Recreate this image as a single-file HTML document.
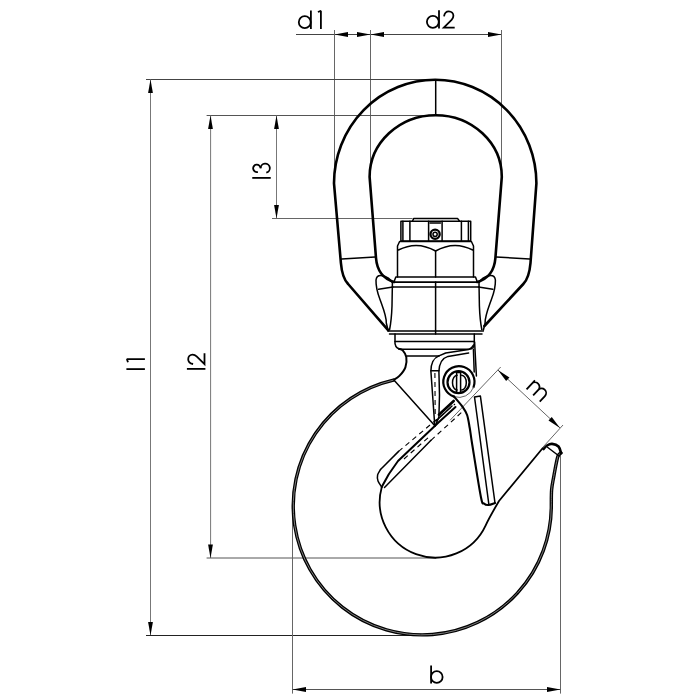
<!DOCTYPE html><html><head><meta charset="utf-8"><style>html,body{margin:0;padding:0;background:#fff;font-family:"Liberation Sans",sans-serif;width:700px;height:700px;overflow:hidden;}svg{display:block;}</style></head><body><svg width="700" height="700" viewBox="0 0 700 700">
<rect width="700" height="700" fill="#fff"/>
<line x1="296.00" y1="34.50" x2="501.50" y2="34.50" fill="none" stroke="#444" stroke-width="1"/>
<line x1="334.50" y1="30.00" x2="334.50" y2="183.00" fill="none" stroke="#666" stroke-width="1"/>
<line x1="370.50" y1="30.00" x2="370.50" y2="165.00" fill="none" stroke="#666" stroke-width="1"/>
<line x1="501.50" y1="30.00" x2="501.50" y2="165.00" fill="none" stroke="#666" stroke-width="1"/>
<path d="M 334.50,34.50 L 348.00,32.10 L 348.00,36.90 Z" fill="#000"/>
<path d="M 370.50,34.50 L 357.00,36.90 L 357.00,32.10 Z" fill="#000"/>
<path d="M 370.50,34.50 L 384.00,32.10 L 384.00,36.90 Z" fill="#000"/>
<path d="M 501.50,34.50 L 488.00,36.90 L 488.00,32.10 Z" fill="#000"/>
<line x1="146.00" y1="79.50" x2="435.70" y2="79.50" fill="none" stroke="#444" stroke-width="1"/>
<line x1="150.50" y1="79.50" x2="150.50" y2="635.50" fill="none" stroke="#777" stroke-width="1"/>
<line x1="146.00" y1="635.50" x2="426.00" y2="635.50" fill="none" stroke="#222" stroke-width="1"/>
<path d="M 150.50,79.50 L 152.90,93.00 L 148.10,93.00 Z" fill="#000"/>
<path d="M 150.50,635.50 L 148.10,622.00 L 152.90,622.00 Z" fill="#000"/>
<line x1="206.60" y1="115.50" x2="435.70" y2="115.50" fill="none" stroke="#555" stroke-width="1"/>
<line x1="210.60" y1="115.50" x2="210.60" y2="558.00" fill="none" stroke="#777" stroke-width="1"/>
<line x1="206.60" y1="558.00" x2="436.00" y2="558.00" fill="none" stroke="#555" stroke-width="1"/>
<path d="M 210.50,115.50 L 212.90,129.00 L 208.10,129.00 Z" fill="#000"/>
<path d="M 210.50,558.00 L 208.10,544.50 L 212.90,544.50 Z" fill="#000"/>
<line x1="276.50" y1="115.50" x2="276.50" y2="218.50" fill="none" stroke="#777" stroke-width="1"/>
<line x1="272.00" y1="218.50" x2="412.60" y2="218.50" fill="none" stroke="#666" stroke-width="1"/>
<path d="M 276.50,115.50 L 278.90,129.00 L 274.10,129.00 Z" fill="#000"/>
<path d="M 276.50,218.50 L 274.10,205.00 L 278.90,205.00 Z" fill="#000"/>
<line x1="292.50" y1="503.00" x2="292.50" y2="693.60" fill="none" stroke="#666" stroke-width="1"/>
<line x1="560.50" y1="454.00" x2="560.50" y2="693.60" fill="none" stroke="#666" stroke-width="1"/>
<line x1="292.50" y1="689.50" x2="560.50" y2="689.50" fill="none" stroke="#555" stroke-width="1"/>
<path d="M 292.50,689.50 L 306.00,687.10 L 306.00,691.90 Z" fill="#000"/>
<path d="M 560.50,689.50 L 547.00,691.90 L 547.00,687.10 Z" fill="#000"/>
<line x1="450.00" y1="420.30" x2="500.70" y2="367.00" fill="none" stroke="#666" stroke-width="1"/>
<line x1="542.60" y1="447.50" x2="563.00" y2="425.00" fill="none" stroke="#666" stroke-width="1"/>
<line x1="497.90" y1="370.00" x2="560.00" y2="427.90" fill="none" stroke="#666" stroke-width="1"/>
<path d="M 497.90,370.00 L 509.41,377.45 L 506.14,380.96 Z" fill="#000"/>
<path d="M 560.00,427.90 L 548.49,420.45 L 551.76,416.94 Z" fill="#000"/>
<circle cx="304.75" cy="22.15" r="5.95" fill="none" stroke="#000" stroke-width="1.8" stroke-linecap="butt"/>
<path d="M 310.90,28.90 V 10.50" fill="none" stroke="#000" stroke-width="1.8" stroke-linecap="butt"/>
<path d="M 317.90,12.00 L 320.90,10.90 V 28.90" fill="none" stroke="#000" stroke-width="1.8" stroke-linecap="butt" stroke-linejoin="bevel"/>
<circle cx="432.85" cy="21.85" r="5.95" fill="none" stroke="#000" stroke-width="1.8" stroke-linecap="butt"/>
<path d="M 439.00,28.60 V 10.20" fill="none" stroke="#000" stroke-width="1.8" stroke-linecap="butt"/>
<path d="M 444.0,16.3 C 444.6,13.000000000000002 446.6,11.400000000000002 448.8,11.400000000000002 C 451.5,11.400000000000002 453.40000000000003,13.3 453.40000000000003,15.8 C 453.40000000000003,17.400000000000002 452.8,18.6 451.6,19.8 L 443.8,27.700000000000003 H 454.7" fill="none" stroke="#000" stroke-width="1.8" stroke-linecap="butt" stroke-linejoin="miter"/>
<path d="M 431.10,683.60 V 665.40" fill="none" stroke="#000" stroke-width="1.8" stroke-linecap="butt"/>
<circle cx="436.80" cy="677.00" r="5.8" fill="none" stroke="#000" stroke-width="1.8" stroke-linecap="butt"/>
<g transform="translate(144.90,370.00) rotate(-90.00)">
<path d="M 0.90,0 V -18.5" fill="none" stroke="#000" stroke-width="1.8" stroke-linecap="butt"/>
<path d="M 7.80,-16.90 L 10.80,-18.00 V 0.00" fill="none" stroke="#000" stroke-width="1.8" stroke-linecap="butt" stroke-linejoin="bevel"/>
</g>
<g transform="translate(205.40,369.80) rotate(-90.00)">
<path d="M 0.90,0 V -18.5" fill="none" stroke="#000" stroke-width="1.8" stroke-linecap="butt"/>
<path d="M 5.8,-12.3 C 6.3999999999999995,-15.6 8.399999999999999,-17.2 10.6,-17.2 C 13.299999999999999,-17.2 15.2,-15.3 15.2,-12.8 C 15.2,-11.2 14.6,-10.0 13.4,-8.8 L 5.6,-0.9 H 16.5" fill="none" stroke="#000" stroke-width="1.8" stroke-linecap="butt" stroke-linejoin="miter"/>
</g>
<g transform="translate(270.75,178.80) rotate(-90.00)">
<path d="M 0.90,0 V -18.5" fill="none" stroke="#000" stroke-width="1.8" stroke-linecap="butt"/>
<path d="M 6.9,-12.9 A 3.7,3.7 0 1 1 10.5,-10.2" fill="none" stroke="#000" stroke-width="1.8" stroke-linecap="butt"/>
<path d="M 10.6,-10.1 A 4.6,4.6 0 1 1 6.12,-4.47" fill="none" stroke="#000" stroke-width="1.8" stroke-linecap="butt"/>
</g>
<g transform="translate(525.90,388.70) rotate(43.00)">
<path d="M 0.9,0 V -12.3 M 0.9,-7.6 A 4.5,4.5 0 0 1 9.9,-7.6 V 0 M 9.9,-7.6 A 4.5,4.5 0 0 1 18.9,-7.6 V 0" fill="none" stroke="#000" stroke-width="1.8" stroke-linecap="butt"/>
</g>
<path d="M 388.3,330.3 L 348.1,284 Q 342.2,278 340.9,263 L 334,183.3 A 101.2,103.6 0 0 1 536.4,183.3 L 530.5,263 Q 529.2,278 523.3,284 L 484.4,326" fill="none" stroke="#000" stroke-width="2.6" stroke-linejoin="round" stroke-linecap="round"/>
<path d="M 394,282 Q 377.5,277 376,258 L 369.6,176.9 A 66.1,61.7 0 0 1 501.8,176.9 L 495.4,258 Q 493.9,277 477.4,282" fill="none" stroke="#000" stroke-width="2.6" stroke-linejoin="round" stroke-linecap="round"/>
<line x1="435.70" y1="79.70" x2="435.70" y2="115.20" fill="none" stroke="#000" stroke-width="1.5" stroke-linejoin="round" stroke-linecap="round"/>
<line x1="341.70" y1="259.10" x2="375.10" y2="257.00" fill="none" stroke="#000" stroke-width="1.5" stroke-linejoin="round" stroke-linecap="round"/>
<line x1="529.70" y1="259.10" x2="496.30" y2="257.00" fill="none" stroke="#000" stroke-width="1.5" stroke-linejoin="round" stroke-linecap="round"/>
<path d="M 388,330 L 386.3,323 C 386.5,316 383,308 380,299.5 C 377.5,293 375.8,286 376,280 Q 376.5,275.3 381,275.5 Q 390,277 392.4,283 L 392,306 Q 391.5,320 389.6,329.5" fill="none" stroke="#000" stroke-width="1.5" stroke-linejoin="round" stroke-linecap="round"/>
<path d="M 388,330 L 386.3,323 C 386.5,316 383,308 380,299.5 C 377.5,293 375.8,286 376,280 Q 376.5,275.3 381,275.5 Q 390,277 392.4,283 L 392,306 Q 391.5,320 389.6,329.5" fill="none" stroke="#000" stroke-width="1.5" stroke-linejoin="round" stroke-linecap="round" transform="translate(871.4,0) scale(-1,1)"/>
<line x1="378.60" y1="289.30" x2="392.90" y2="287.10" fill="none" stroke="#000" stroke-width="1.5" stroke-linejoin="round" stroke-linecap="round"/>
<line x1="492.80" y1="289.30" x2="478.50" y2="287.10" fill="none" stroke="#000" stroke-width="1.5" stroke-linejoin="round" stroke-linecap="round"/>
<path d="M 412.5,221 L 413.8,218.4 H 457.5 L 459.4,221" fill="none" stroke="#000" stroke-width="1.5" stroke-linejoin="round" stroke-linecap="round"/>
<rect x="400.9" y="221.3" width="69.8" height="19.6" fill="none" stroke="#000" stroke-width="1.5" stroke-linejoin="round" stroke-linecap="round"/>
<line x1="402.90" y1="221.30" x2="402.90" y2="240.90" fill="none" stroke="#000" stroke-width="1.5" stroke-linejoin="round" stroke-linecap="round"/>
<line x1="409.90" y1="221.30" x2="409.90" y2="240.90" fill="none" stroke="#000" stroke-width="1.5" stroke-linejoin="round" stroke-linecap="round"/>
<line x1="428.60" y1="221.30" x2="428.60" y2="240.90" fill="none" stroke="#000" stroke-width="1.5" stroke-linejoin="round" stroke-linecap="round"/>
<line x1="442.10" y1="221.30" x2="442.10" y2="240.90" fill="none" stroke="#000" stroke-width="1.5" stroke-linejoin="round" stroke-linecap="round"/>
<line x1="461.40" y1="221.30" x2="461.40" y2="240.90" fill="none" stroke="#000" stroke-width="1.5" stroke-linejoin="round" stroke-linecap="round"/>
<line x1="468.40" y1="221.30" x2="468.40" y2="240.90" fill="none" stroke="#000" stroke-width="1.5" stroke-linejoin="round" stroke-linecap="round"/>
<line x1="430.00" y1="222.90" x2="440.50" y2="222.90" fill="none" stroke="#000" stroke-width="1.5" stroke-linejoin="round" stroke-linecap="round"/>
<circle cx="435.1" cy="234.3" r="4.6" fill="none" stroke="#000" stroke-width="2.3" stroke-linejoin="round" stroke-linecap="round"/>
<circle cx="435.1" cy="234.3" r="2.1" fill="none" stroke="#000" stroke-width="1.5" stroke-linejoin="round" stroke-linecap="round"/>
<path d="M 397.5,277 V 246 L 399.6,241.5 H 471.4 L 473.5,246 V 277" fill="none" stroke="#000" stroke-width="1.5" stroke-linejoin="round" stroke-linecap="round"/>
<path d="M 398.4,250 Q 417,240.3 435.6,251 Q 454.2,240.3 472.8,250" fill="none" stroke="#000" stroke-width="1.5" stroke-linejoin="round" stroke-linecap="round"/>
<line x1="435.60" y1="251.00" x2="435.60" y2="277.00" fill="none" stroke="#000" stroke-width="1.5" stroke-linejoin="round" stroke-linecap="round"/>
<path d="M 393.9,282.3 L 395.8,277 H 475.5 L 477.4,282.3 Z" fill="none" stroke="#000" stroke-width="1.5" stroke-linejoin="round" stroke-linecap="round"/>
<line x1="392.50" y1="282.30" x2="479.00" y2="282.30" fill="none" stroke="#000" stroke-width="1.5" stroke-linejoin="round" stroke-linecap="round"/>
<line x1="392.30" y1="287.00" x2="479.10" y2="287.00" fill="none" stroke="#000" stroke-width="1.5" stroke-linejoin="round" stroke-linecap="round"/>
<line x1="435.60" y1="282.00" x2="435.60" y2="334.00" fill="none" stroke="#000" stroke-width="1.5" stroke-linejoin="round" stroke-linecap="round"/>
<path d="M 388,331 H 483.4 M 389.5,334 H 482" fill="none" stroke="#000" stroke-width="1.5" stroke-linejoin="round" stroke-linecap="round"/>
<path d="M 395,334 V 343.6 Q 396,349.3 402,349.3 H 469 Q 474.3,349.3 474.3,343.6 V 334" fill="none" stroke="#000" stroke-width="1.5" stroke-linejoin="round" stroke-linecap="round"/>
<line x1="395.00" y1="341.40" x2="474.30" y2="341.40" fill="none" stroke="#000" stroke-width="1.5" stroke-linejoin="round" stroke-linecap="round"/>
<path d="M 399.00,348.80 C 399.65,349.10 401.68,349.23 402.90,350.60 C 404.12,351.97 405.88,354.22 406.30,357.00 C 406.72,359.78 406.55,364.15 405.40,367.30 C 404.25,370.45 401.40,373.77 399.40,375.90 C 397.40,378.03 394.40,379.40 393.40,380.10" fill="none" stroke="#000" stroke-width="2.0" stroke-linejoin="round" stroke-linecap="round"/>
<path d="M 393.40,380.10 A 129.04,129.04 0 1 0 551.31,505.00 C 551.36,502.50 551.25,494.40 551.60,490.00 C 551.95,485.60 552.38,484.08 553.40,478.60 C 554.42,473.12 556.43,461.37 557.70,457.10 C 558.97,452.83 560.45,453.68 561.00,453.00" fill="none" stroke="#000" stroke-width="3.4" stroke-linejoin="round" stroke-linecap="round"/>
<path d="M 393.40,380.10 A 129.04,129.04 0 1 0 551.31,505.00 C 551.36,502.50 551.25,494.40 551.60,490.00 C 551.95,485.60 552.38,484.08 553.40,478.60 C 554.42,473.12 556.43,461.37 557.70,457.10 C 558.97,452.83 560.45,453.68 561.00,453.00" fill="none" stroke="#8a8a8a" stroke-width="0.9" stroke-linejoin="round" stroke-linecap="round"/>
<path d="M 561.00,453.00 C 560.58,451.92 559.98,448.02 558.50,446.50 C 557.02,444.98 554.02,444.07 552.10,443.90 C 550.18,443.73 548.42,444.65 547.00,445.50 C 545.58,446.35 544.17,448.42 543.60,449.00" fill="none" stroke="#000" stroke-width="2.6" stroke-linejoin="round" stroke-linecap="round"/>
<line x1="546.50" y1="446.50" x2="559.00" y2="456.00" fill="none" stroke="#000" stroke-width="1.5" stroke-linejoin="round" stroke-linecap="round"/>
<path d="M 542.6,448.3 L 499,501 Q 489.37,517.38 485.57,525.54 A 55.53,55.53 0 0 1 381.73,487.23" fill="none" stroke="#000" stroke-width="1.8" stroke-linejoin="round" stroke-linecap="round"/>
<path d="M 381.70,487.00 C 381.08,486.00 378.68,483.00 378.00,481.00 C 377.32,479.00 377.18,476.92 377.60,475.00 C 378.02,473.08 380.02,470.42 380.50,469.50" fill="none" stroke="#000" stroke-width="1.5" stroke-linejoin="round" stroke-linecap="round"/>
<line x1="380.50" y1="469.50" x2="398.60" y2="451.40" fill="none" stroke="#000" stroke-width="1.5" stroke-linejoin="round" stroke-linecap="round"/>
<line x1="398.60" y1="451.40" x2="455.00" y2="404.00" fill="none" stroke="#000" stroke-width="1.1" stroke-dasharray="5,4"/>
<path d="M 381.7,487 Q 388,474 398,461 L 439,422 L 455.5,407" fill="none" stroke="#000" stroke-width="2.0" stroke-linejoin="round" stroke-linecap="round"/>
<line x1="384.50" y1="487.50" x2="431.00" y2="440.30" fill="none" stroke="#000" stroke-width="1.5" stroke-linejoin="round" stroke-linecap="round"/>
<line x1="431.00" y1="440.30" x2="462.00" y2="412.00" fill="none" stroke="#000" stroke-width="1.1" stroke-dasharray="5,4"/>
<line x1="404.00" y1="459.00" x2="430.00" y2="436.00" fill="none" stroke="#000" stroke-width="1.1" stroke-dasharray="5,4"/>
<line x1="393.90" y1="380.00" x2="434.40" y2="425.30" fill="none" stroke="#000" stroke-width="1.5" stroke-linejoin="round" stroke-linecap="round"/>
<line x1="406.90" y1="355.90" x2="438.90" y2="355.90" fill="none" stroke="#000" stroke-width="1.5" stroke-linejoin="round" stroke-linecap="round"/>
<path d="M 438.9,355.9 Q 431,359 430.9,371.3 L 434.8,426" fill="none" stroke="#000" stroke-width="1.5" stroke-linejoin="round" stroke-linecap="round"/>
<path d="M 468.6,353 L 448,356.4 Q 439.5,359 438.9,371.3 L 439.5,395 L 438.9,417 L 435.2,426" fill="none" stroke="#000" stroke-width="1.5" stroke-linejoin="round" stroke-linecap="round"/>
<line x1="434.90" y1="373.00" x2="435.20" y2="418.00" fill="none" stroke="#000" stroke-width="1.1" stroke-dasharray="5,4"/>
<line x1="430.90" y1="370.70" x2="439.00" y2="370.70" fill="none" stroke="#000" stroke-width="1.5" stroke-linejoin="round" stroke-linecap="round"/>
<path d="M 438.9,355.9 L 445.7,353 L 468.6,349.6 Q 472,348 473.5,345" fill="none" stroke="#000" stroke-width="1.5" stroke-linejoin="round" stroke-linecap="round"/>
<line x1="474.60" y1="342.00" x2="476.40" y2="376.00" fill="none" stroke="#000" stroke-width="1.5" stroke-linejoin="round" stroke-linecap="round"/>
<line x1="473.40" y1="349.30" x2="474.20" y2="372.00" fill="none" stroke="#000" stroke-width="1.5" stroke-linejoin="round" stroke-linecap="round"/>
<line x1="438.90" y1="414.70" x2="453.70" y2="401.00" fill="none" stroke="#000" stroke-width="2.6" stroke-linejoin="round" stroke-linecap="round"/>
<line x1="436.00" y1="421.00" x2="452.00" y2="406.00" fill="none" stroke="#000" stroke-width="1.5" stroke-linejoin="round" stroke-linecap="round"/>
<path d="M 454.08,396.64 A 15.60,15.60 0 1 1 473.56,387.14" fill="none" stroke="#000" stroke-width="2.2" stroke-linejoin="round" stroke-linecap="round"/>
<path d="M 473.56,387.14 A 15.60,15.60 0 0 1 454.08,396.64" fill="none" stroke="#666" stroke-width="1"/>
<circle cx="458.5" cy="382.2" r="11.0" fill="none" stroke="#000" stroke-width="2.2" stroke-linejoin="round" stroke-linecap="round"/>
<path d="M 457.1,375.3 A 4.6,7.4 0 0 0 457.1,390.1 M 461.7,375.3 A 4.6,7.4 0 0 1 461.7,390.1" fill="none" stroke="#000" stroke-width="1.5" stroke-linejoin="round" stroke-linecap="round"/>
<rect x="456.6" y="372.4" width="4.0" height="20.6" fill="none" stroke="#000" stroke-width="1.5" stroke-linejoin="round" stroke-linecap="round"/>
<path d="M 454.08,396.64 C 455.55,398.41 460.73,404.24 462.90,407.30 C 465.07,410.36 465.97,411.58 467.10,415.00 C 468.23,418.42 468.83,422.80 469.70,427.80 C 470.57,432.80 470.43,433.47 472.30,445.00 C 474.17,456.53 478.95,487.25 480.90,497.00 C 482.85,506.75 482.73,502.17 484.00,503.50 C 485.27,504.83 486.67,505.08 488.50,505.00 C 490.33,504.92 493.92,503.33 495.00,503.00" fill="none" stroke="#000" stroke-width="2.1" stroke-linejoin="round" stroke-linecap="round"/>
<path d="M 474.5,397 L 488.8,504 M 480.4,396.1 L 495,503 M 474.5,397 L 480.4,396.1" fill="none" stroke="#000" stroke-width="1.5" stroke-linejoin="round" stroke-linecap="round"/>
</svg></body></html>
